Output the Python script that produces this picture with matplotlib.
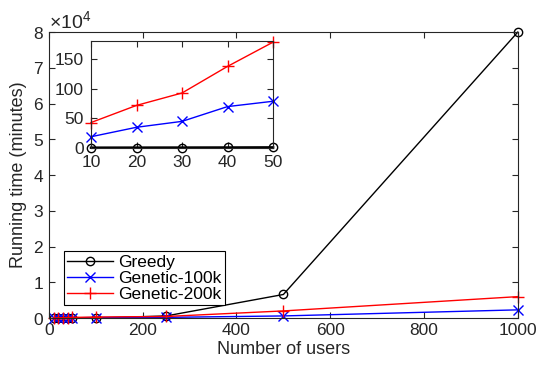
import matplotlib.pyplot as plt
from matplotlib.ticker import ScalarFormatter

plt.rcParams['font.family'] = ['Liberation Sans', 'DejaVu Sans']
plt.rcParams['mathtext.fontset'] = 'custom'
plt.rcParams['mathtext.rm'] = 'Liberation Sans'

# data (running time in minutes)
users = [10, 20, 30, 40, 50, 100, 250, 500, 1000]
greedy = [0.5, 0.6, 0.7, 0.8, 1.0, 5, 600, 6600, 80000]
genetic100k = [19, 35, 45, 70, 79, 150, 200, 600, 2300]
genetic200k = [43, 72, 93, 138, 179, 300, 450, 2000, 6000]

inset_n = 5  # first five points shown in the inset

axisColor = '#262626'
tickFont = 12.5

fig = plt.figure(figsize=(5.37, 3.69), dpi=100)
ax = fig.add_axes([0.0912, 0.138, 0.873, 0.775])

ax.plot(users, greedy, color='black', marker='o', markersize=6, markerfacecolor='none', linewidth=1, label='Greedy', clip_on=False)
ax.plot(users, genetic100k, color='blue', marker='x', markersize=7, linewidth=1, label='Genetic-100k', clip_on=False)
ax.plot(users, genetic200k, color='red', marker='+', markersize=9, linewidth=1, label='Genetic-200k', clip_on=False)

ax.set_xlim(0, 1000)
ax.set_ylim(0, 80000)
ax.set_xticks([0, 200, 400, 600, 800, 1000])
ax.set_yticks([0, 10000, 20000, 30000, 40000, 50000, 60000, 70000, 80000])
fmt = ScalarFormatter(useMathText=True)
fmt.set_powerlimits((0, 0))
ax.yaxis.set_major_formatter(fmt)
ax.yaxis.get_offset_text().set_fontsize(14)
ax.yaxis.get_offset_text().set_color(axisColor)
ax.set_xlabel('Number of users', fontsize=13, color=axisColor, labelpad=2)
ax.set_ylabel('Running time (minutes)', fontsize=13, color=axisColor, labelpad=4)
ax.tick_params(direction='in', top=True, right=True, labelsize=tickFont, length=4, color=axisColor, labelcolor=axisColor)
for s in ax.spines.values():
    s.set_color(axisColor)

leg = ax.legend(loc='lower left', bbox_to_anchor=(0.032, 0.045), fontsize=12.5, fancybox=False,
                edgecolor='black', framealpha=1, borderpad=0.2, labelspacing=0.05, handlelength=2.6,
                handletextpad=0.3, borderaxespad=0)
leg.get_frame().set_linewidth(0.8)

# inset zoom on small user counts
ins = fig.add_axes([0.1695, 0.599, 0.339, 0.29])
ins.plot(users[:inset_n], greedy[:inset_n], color='black', marker='o', markersize=6, markerfacecolor='none', linewidth=1.8)
ins.plot(users[:inset_n], genetic100k[:inset_n], color='blue', marker='x', markersize=7, linewidth=1)
ins.plot(users[:inset_n], genetic200k[:inset_n], color='red', marker='+', markersize=9, linewidth=1)
ins.set_xlim(10, 50)
ins.set_ylim(0, 181)
ins.set_xticks([10, 20, 30, 40, 50])
ins.set_yticks([0, 50, 100, 150])
ins.tick_params(direction='in', top=True, right=True, labelsize=tickFont, length=4, color=axisColor, labelcolor=axisColor)
ins.tick_params(axis='x', pad=5)
ins.tick_params(axis='y', pad=5)
for s in ins.spines.values():
    s.set_color(axisColor)
for m in ins.lines:
    m.set_clip_on(False)

fig.savefig('out.png', dpi=100)
